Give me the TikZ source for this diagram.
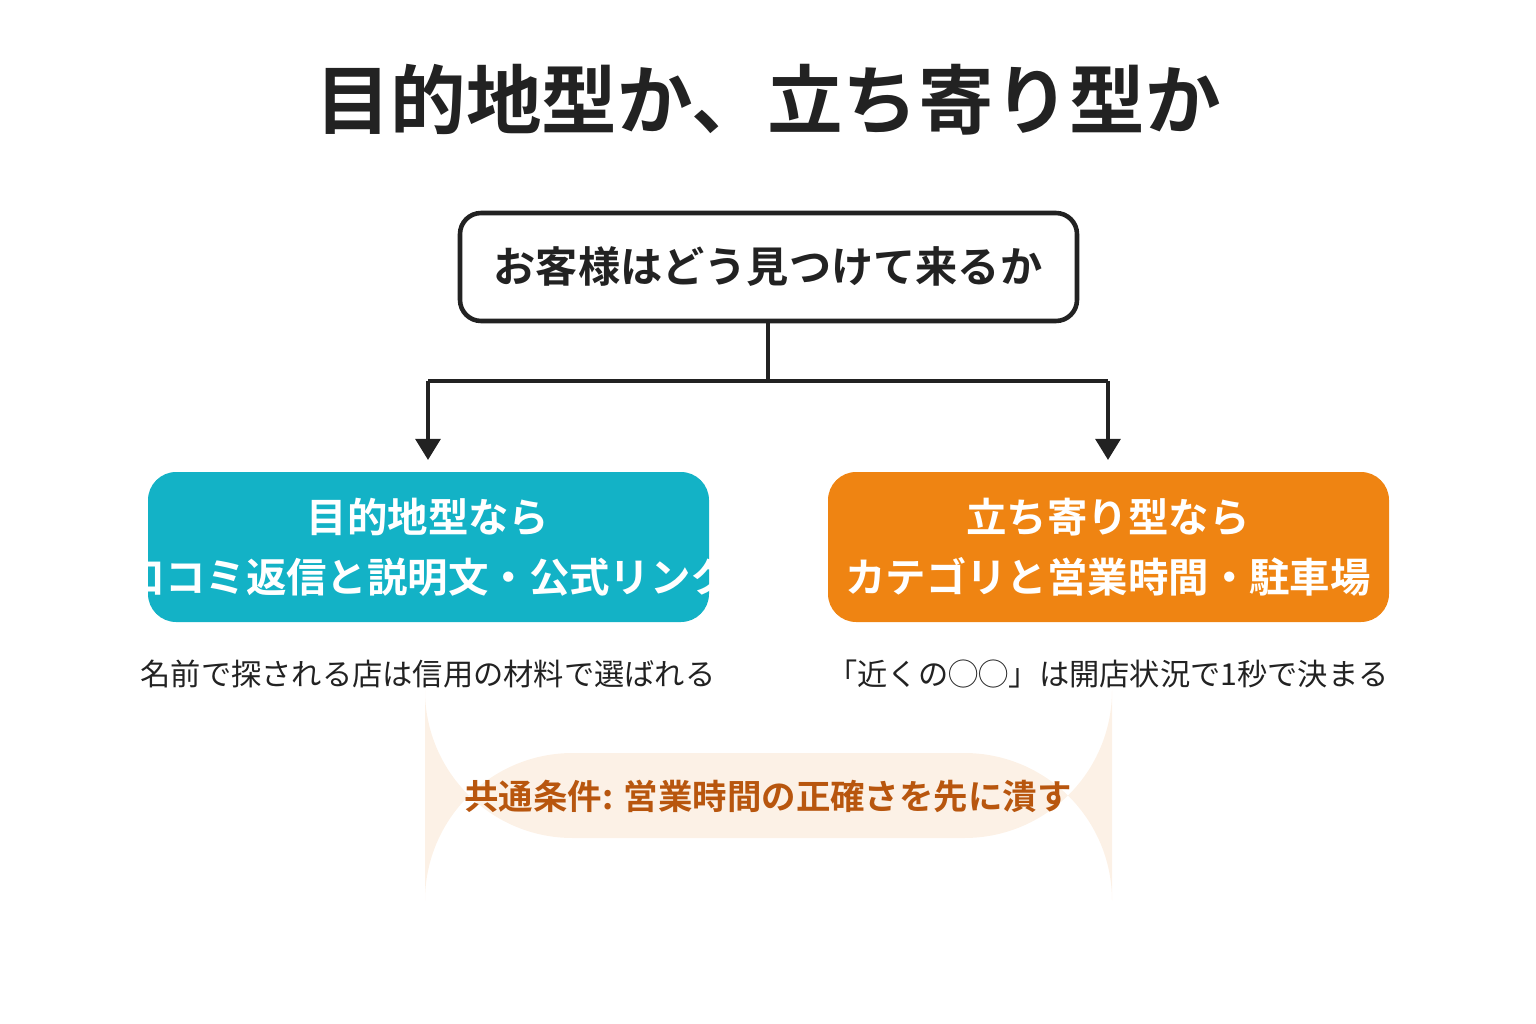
\documentclass[tikz,border=0pt]{standalone}
\usepackage{fontspec}
\usepackage{xcolor}
\newfontfamily\cjk{Noto Sans CJK JP}[BoldFont={Noto Sans CJK JP Bold}]
\definecolor{teal}{HTML}{13B2C6}
\definecolor{orng}{HTML}{EF8412}
\definecolor{pill}{HTML}{FCF1E6}
\definecolor{pilltext}{HTML}{B8560E}
\definecolor{ink}{HTML}{222222}
\tikzset{
	box/.style={rounded corners=8pt, text=white, font=\cjk\bfseries\fontsize{11.5pt}{17pt}\selectfont, align=center},
	note/.style={text=ink, font=\cjk\fontsize{8.6pt}{10pt}\selectfont},
	arr/.style={ink, line width=1.2pt, -{Triangle[width=7pt,length=6pt]}}
}
\usetikzlibrary{arrows.meta}
\begin{document}
\begin{tikzpicture}[x=0.01cm, y=-0.01cm]
	\useasboundingbox (0,0) rectangle (1536,1024);
	\node[font=\cjk\bfseries\fontsize{21.5pt}{24pt}\selectfont, text=ink] (title) at (768,100) {目的地型か、立ち寄り型か};
	\draw[ink, line width=1.3pt, fill=white, rounded corners=6pt] (460,213) rectangle (1077,321);
	\node[font=\cjk\bfseries\fontsize{12pt}{14pt}\selectfont, text=ink] (top) at (768,267) {お客様はどう見つけて来るか};
	\coordinate (topb) at (768,321);
	\coordinate (split) at (768,381);
	\coordinate (lt) at (428,381);
	\coordinate (rt) at (1108,381);
	\coordinate (la) at (428,460);
	\coordinate (ra) at (1108,460);
	\draw[ink, line width=1.2pt] (topb) -- (split);
	\draw[ink, line width=1.2pt] (lt) -- (rt);
	\draw[arr] (lt) -- (la);
	\draw[arr] (rt) -- (ra);
	% left box, text clipped
	\fill[teal, rounded corners=8pt] (148,472) rectangle (709,622);
	\begin{scope}
		\clip (148,472) rectangle (709,622);
		\node[box] (left) at (428,547) {目的地型なら\\口コミ返信と説明文・公式リンク};
	\end{scope}
	\fill[orng, rounded corners=8pt] (828,472) rectangle (1389,622);
	\node[box] (right) at (1108,547) {立ち寄り型なら\\カテゴリと営業時間・駐車場};
	\node[note] (lnote) at (428,674) {名前で探される店は信用の材料で選ばれる};
	\node[note] (rnote) at (1108,674) {「近くの◯◯」は開店状況で1秒で決まる};
	\fill[pill, rounded corners=42pt] (425,753) rectangle (1112,838);
	\node[font=\cjk\bfseries\fontsize{9.8pt}{12pt}\selectfont, text=pilltext] (common) at (768,796) {共通条件: 営業時間の正確さを先に潰す};
\end{tikzpicture}
\end{document}
